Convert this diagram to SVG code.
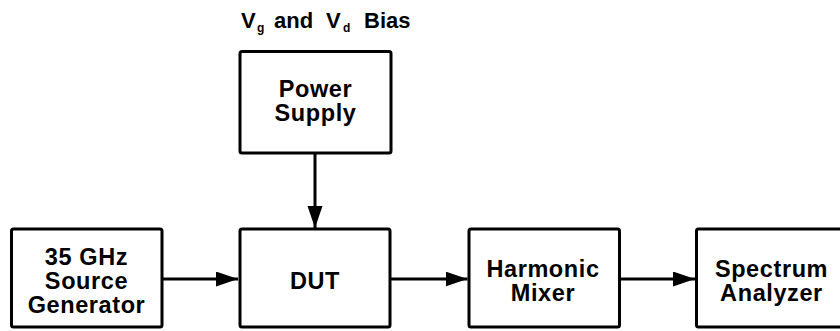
<svg xmlns="http://www.w3.org/2000/svg" width="840" height="331" viewBox="0 0 840 331">
<style>
.box{fill:#fff;stroke:#000;stroke-width:3;stroke-linejoin:round}
.lbl{font-family:"Liberation Sans",Arial,sans-serif;font-weight:bold;font-size:23.5px;letter-spacing:0.6px;text-anchor:middle;fill:#000}
.bias{font-family:"Liberation Sans",Arial,sans-serif;font-weight:bold;font-size:22px;fill:#000}
.sub{font-size:12px}
.conn{stroke:#000;stroke-width:3;fill:none}
</style>
<defs>
<marker id="ah" markerUnits="userSpaceOnUse" markerWidth="24" markerHeight="16" refX="22" refY="7.5" orient="auto">
<path d="M0,0 L22,7.5 L0,15 z" fill="#000"/>
</marker>
</defs>
<rect width="840" height="331" fill="#fff"/>
<text class="bias" y="28"><tspan x="241">V</tspan><tspan class="sub" x="257" y="32">g</tspan><tspan x="274" y="28">and</tspan><tspan x="326" y="28">V</tspan><tspan class="sub" x="343" y="32">d</tspan><tspan x="364" y="28">Bias</tspan></text>
<g id="power">
<rect class="box" x="240" y="51.5" width="151" height="101.5" rx="2"/>
<text class="lbl"><tspan x="315.5" y="97">Power</tspan><tspan x="315.5" y="121">Supply</tspan></text>
</g>
<g id="source">
<rect class="box" x="11.5" y="229" width="150.5" height="98" rx="2"/>
<text class="lbl"><tspan x="86.5" y="265">35 GHz</tspan><tspan x="86.5" y="289">Source</tspan><tspan x="86.5" y="313">Generator</tspan></text>
</g>
<g id="dut">
<rect class="box" x="240" y="229" width="150" height="98" rx="2"/>
<text class="lbl" x="315" y="289">DUT</text>
</g>
<g id="mixer">
<rect class="box" x="469" y="229" width="150.5" height="98" rx="2"/>
<text class="lbl"><tspan x="543" y="277">Harmonic</tspan><tspan x="543" y="301">Mixer</tspan></text>
</g>
<g id="analyzer">
<rect class="box" x="696.5" y="229" width="150" height="98" rx="2"/>
<text class="lbl"><tspan x="771.5" y="277">Spectrum</tspan><tspan x="771.5" y="301">Analyzer</tspan></text>
</g>
<g id="connectors">
<line class="conn" x1="315" y1="153" x2="315" y2="228" marker-end="url(#ah)"/>
<line class="conn" x1="162" y1="279" x2="238" y2="279" marker-end="url(#ah)"/>
<line class="conn" x1="390" y1="279" x2="467.5" y2="279" marker-end="url(#ah)"/>
<line class="conn" x1="619.5" y1="279" x2="695" y2="279" marker-end="url(#ah)"/>
</g>
</svg>
